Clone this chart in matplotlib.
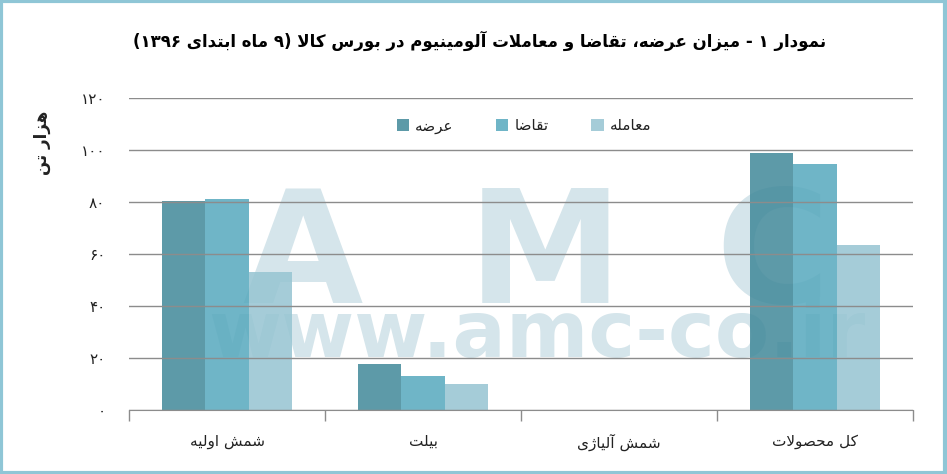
import re
import numpy as np
import matplotlib
matplotlib.use("Agg")
import matplotlib.pyplot as plt
from matplotlib.patches import Rectangle

# ---------------- data ----------------
categories = ['شمش اولیه', 'بیلت', 'شمش آلیاژی', 'کل محصولات']
series_names = ['عرضه', 'تقاضا', 'معامله']
supply = [80.4, 17.7, 0, 99.0]
demand = [81.2, 13.2, 0, 94.6]
trade = [53.2, 10.1, 0, 63.5]
y_ticks = [0, 20, 40, 60, 80, 100, 120]
y_tick_labels = ['۰', '۲۰', '۴۰', '۶۰', '۸۰', '۱۰۰', '۱۲۰']
title = 'نمودار ۱ - میزان عرضه، تقاضا و معاملات آلومینیوم در بورس کالا (۹ ماه ابتدای ۱۳۹۶)'
y_label = 'هزار تن'

# ------------- minimal Persian shaping -------------
FORMS = {
    '\u0622': ('\uFE81', '\uFE82', None, None),
    '\u0627': ('\uFE8D', '\uFE8E', None, None),
    '\u0628': ('\uFE8F', '\uFE90', '\uFE91', '\uFE92'),
    '\u062A': ('\uFE95', '\uFE96', '\uFE97', '\uFE98'),
    '\u062D': ('\uFEA1', '\uFEA2', '\uFEA3', '\uFEA4'),
    '\u062F': ('\uFEA9', '\uFEAA', None, None),
    '\u0631': ('\uFEAD', '\uFEAE', None, None),
    '\u0632': ('\uFEAF', '\uFEB0', None, None),
    '\u0698': ('\uFB8A', '\uFB8B', None, None),
    '\u0633': ('\uFEB1', '\uFEB2', '\uFEB3', '\uFEB4'),
    '\u0634': ('\uFEB5', '\uFEB6', '\uFEB7', '\uFEB8'),
    '\u0635': ('\uFEB9', '\uFEBA', '\uFEBB', '\uFEBC'),
    '\u0636': ('\uFEBD', '\uFEBE', '\uFEBF', '\uFEC0'),
    '\u0639': ('\uFEC9', '\uFECA', '\uFECB', '\uFECC'),
    '\u0642': ('\uFED5', '\uFED6', '\uFED7', '\uFED8'),
    '\u06A9': ('\uFB8E', '\uFB8F', '\uFB90', '\uFB91'),
    '\u0644': ('\uFEDD', '\uFEDE', '\uFEDF', '\uFEE0'),
    '\u0645': ('\uFEE1', '\uFEE2', '\uFEE3', '\uFEE4'),
    '\u0646': ('\uFEE5', '\uFEE6', '\uFEE7', '\uFEE8'),
    '\u0647': ('\uFEE9', '\uFEEA', '\uFEEB', '\uFEEC'),
    '\u0648': ('\uFEED', '\uFEEE', None, None),
    '\u06CC': ('\uFBFC', '\uFBFD', '\uFBFE', '\uFBFF'),
}
LAM_ALEF = {'\u0627': ('\uFEFB', '\uFEFC'), '\u0622': ('\uFEF5', '\uFEF6')}
DIGITS = '0123456789\u06F0\u06F1\u06F2\u06F3\u06F4\u06F5\u06F6\u06F7\u06F8\u06F9'
MIRROR = str.maketrans('()', ')(')


def fa(text):
    toks = []
    i = 0
    while i < len(text):
        c = text[i]
        if c == '\u0644' and i + 1 < len(text) and text[i + 1] in LAM_ALEF:
            toks.append(('LA', text[i + 1]))
            i += 2
        else:
            toks.append((c, None))
            i += 1

    def dual(t):
        return t[0] in FORMS and FORMS[t[0]][2] is not None

    def joining(t):
        return t[0] == 'LA' or t[0] in FORMS

    out = []
    for k, t in enumerate(toks):
        prev = toks[k - 1] if k > 0 else None
        nxt = toks[k + 1] if k + 1 < len(toks) else None
        jp = joining(t) and prev is not None and dual(prev)
        jn = dual(t) and nxt is not None and joining(nxt)
        if t[0] == 'LA':
            out.append(LAM_ALEF[t[1]][1 if jp else 0])
        elif t[0] in FORMS:
            f = FORMS[t[0]]
            out.append(f[3] if (jp and jn) else f[1] if jp else f[2] if jn else f[0])
        else:
            out.append(t[0])
    s = ''.join(out)
    parts = re.findall('[' + DIGITS + ']+|[^' + DIGITS + ']+', s)
    res = []
    for p in reversed(parts):
        if p[0] in DIGITS:
            res.append(p)
        else:
            res.append(p[::-1].translate(MIRROR))
    return ''.join(res)


plt.rcParams['font.family'] = ['DejaVu Sans']

W, H = 947, 474
fig = plt.figure(figsize=(W / 100, H / 100), dpi=100)
fig.patch.set_facecolor('white')


def fx(px):
    return px / W


def fy(py):
    return 1 - py / H


ax = fig.add_axes([fx(129), fy(410), fx(913) - fx(129), fy(98) - fy(410)])

# watermark (behind the semi-transparent bars)
wm_color = '#d5e5eb'
for letter, cx in zip(['A', 'M', 'C'], [302, 545, 772]):
    ax.text(fx(cx), fy(303), letter, transform=fig.transFigure, ha='center', va='baseline',
            fontsize=112, fontweight='bold', color=wm_color, zorder=0.5, clip_on=False)
ax.text(fx(537), fy(357), 'www.amc-co.ir', transform=fig.transFigure, ha='center', va='baseline',
        fontsize=57, fontweight='bold', color=wm_color, zorder=0.5, clip_on=False)

x = np.arange(len(categories))
bw = 0.222
colors = ['#408899', '#56a8bd', '#96c4d2']
values = [supply, demand, trade]
handles = []
for j, (vals, col, name) in enumerate(zip(values, colors, series_names)):
    b = ax.bar(x + (j - 1) * bw, vals, width=bw, color=col, alpha=0.85,
               label=fa(name), zorder=2, linewidth=0)
    handles.append(b)

ax.set_xlim(-0.5, len(categories) - 0.5)
ax.set_ylim(0, 120)
ax.set_yticks(y_ticks)
ax.set_yticklabels(y_tick_labels, fontsize=11, color='#222222')
ax.tick_params(axis='y', length=0, pad=17)
ax.set_xticks(x)
ax.set_xticklabels([fa(c) for c in categories], fontsize=11, color='#222222')
ax.tick_params(axis='x', which='major', length=0, pad=17)
ax.set_xticks(np.arange(-0.5, len(categories)), minor=True)
ax.tick_params(axis='x', which='minor', length=8, color='#8c8c8c', width=1, direction='out')

ax.grid(axis='y', color='#8c8c8c', linewidth=1)
ax.set_axisbelow(False)
for s in ['left', 'right', 'top']:
    ax.spines[s].set_visible(False)
ax.spines['bottom'].set_color('#8c8c8c')
ax.spines['bottom'].set_zorder(3)

fig.text(fx(480), fy(41), fa(title), ha='center', va='center', fontsize=12,
         fontweight='bold', color='black')
fig.text(fx(42), fy(143), fa(y_label), ha='center', va='center', rotation=90,
         fontsize=12, fontweight='bold', color='#222222')

leg = fig.legend(handles=handles, loc='center', bbox_to_anchor=(fx(524), fy(126)), ncol=3,
                 frameon=False, fontsize=11, handlelength=0.8, handleheight=0.8,
                 handletextpad=0.4, columnspacing=2.8)
for t in leg.get_texts():
    t.set_color('#222222')

fig.patches.append(Rectangle((0.001, 0.002), 0.997, 0.995, transform=fig.transFigure,
                             fill=False, edgecolor='#8fc6d6', linewidth=3))

fig.savefig('out.png', dpi=100, facecolor='white')
